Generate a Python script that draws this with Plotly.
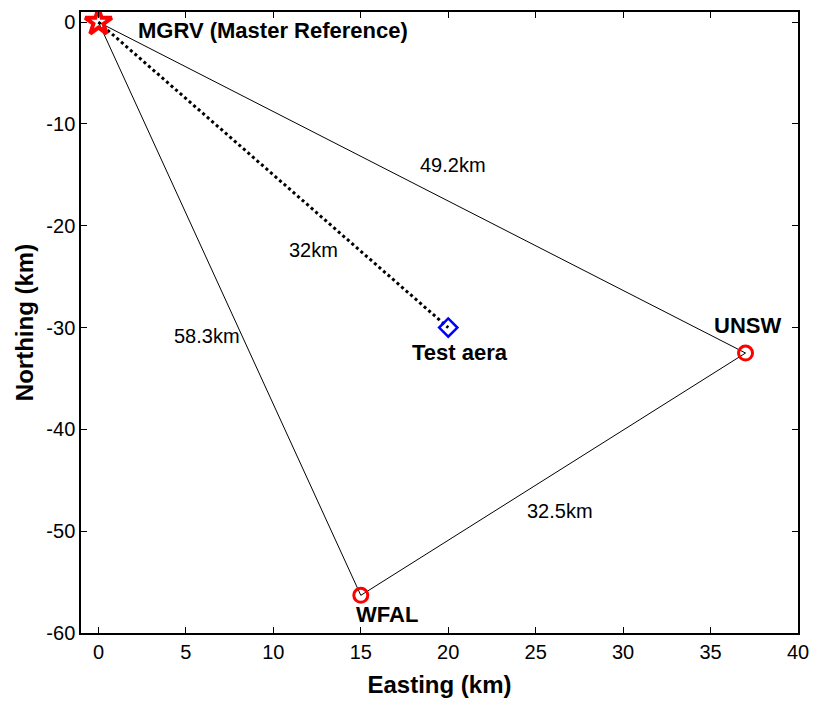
import plotly.graph_objects as go

# Station coordinates (km)
stations = ["MGRV", "UNSW", "WFAL"]
easting = [0, 37, 15]
northing = [0, -32.5, -56.3]

# Test area location
test_e = [20]
test_n = [-30]

# Baseline length labels
dist_labels = ["49.2km", "32.5km", "58.3km", "32km"]
dist_e = [20.3, 26.4, 6.2, 12.3]
dist_n = [-14.0, -48.0, -30.8, -22.4]

# Axis ticks
x_ticks = list(range(0, 41, 5))
y_ticks = list(range(-60, 1, 10))
y_tick_text = [str(v) for v in y_ticks]

FONT = "Liberation Sans, Arial, sans-serif"

fig = go.Figure()

# Triangle of baselines
fig.add_trace(go.Scatter(
    x=easting + [easting[0]], y=northing + [northing[0]],
    mode="lines", line=dict(color="black", width=1), showlegend=False))

# Dotted line from master reference to test area
fig.add_trace(go.Scatter(
    x=[easting[0], test_e[0]], y=[northing[0], test_n[0]],
    mode="lines", line=dict(color="black", width=3, dash="dot"), showlegend=False))

# Master reference
fig.add_trace(go.Scatter(
    x=[easting[0]], y=[northing[0]], mode="markers",
    marker=dict(symbol="star-open", size=20, color="red", line=dict(width=4, color="red")),
    showlegend=False))

# Reference stations
fig.add_trace(go.Scatter(
    x=easting[1:], y=northing[1:], mode="markers",
    marker=dict(symbol="circle-open", size=14, color="red", line=dict(width=3, color="red")),
    showlegend=False))

# Test area
fig.add_trace(go.Scatter(
    x=test_e, y=test_n, mode="markers",
    marker=dict(symbol="diamond-open", size=14, color="blue", line=dict(width=2.5, color="blue")),
    showlegend=False))

annos = []
for t, x, y in zip(dist_labels, dist_e, dist_n):
    annos.append(dict(x=x, y=y, text=t, showarrow=False,
                      font=dict(family=FONT, size=20, color="black")))

bold_labels = [
    ("<b>MGRV (Master Reference)</b>", 2.15, -0.8, "left"),
    ("<b>Test aera</b>", 20.7, -32.4, "center"),
    ("<b>UNSW</b>", 37.1, -29.8, "center"),
    ("<b>WFAL</b>", 16.5, -58.2, "center"),
]
for t, x, y, xa in bold_labels:
    annos.append(dict(x=x, y=y, text=t, showarrow=False, xanchor=xa,
                      font=dict(family=FONT, size=22, color="black")))

fig.update_layout(
    width=819, height=709,
    margin=dict(l=81, r=17, t=10, b=76),
    plot_bgcolor="white", paper_bgcolor="white",
    font=dict(family=FONT, size=20, color="black"),
    annotations=annos,
    xaxis=dict(
        range=[-1, 40], tickmode="array", tickvals=x_ticks,
        ticks="inside", ticklen=6, tickcolor="black", showgrid=False, zeroline=False,
        showline=True, linecolor="black", linewidth=1.5, mirror="ticks",
        title=dict(text="<b>Easting (km)</b>", font=dict(family=FONT, size=24), standoff=14),
    ),
    yaxis=dict(
        range=[-60, 1], tickmode="array", tickvals=y_ticks, ticktext=y_tick_text,
        ticks="inside", ticklen=6, tickcolor="black", showgrid=False, zeroline=False,
        showline=True, linecolor="black", linewidth=1.5, mirror="ticks",
        title=dict(text="<b>Northing (km)</b>", font=dict(family=FONT, size=24), standoff=6),
    ),
)

fig.write_html("out.html")
